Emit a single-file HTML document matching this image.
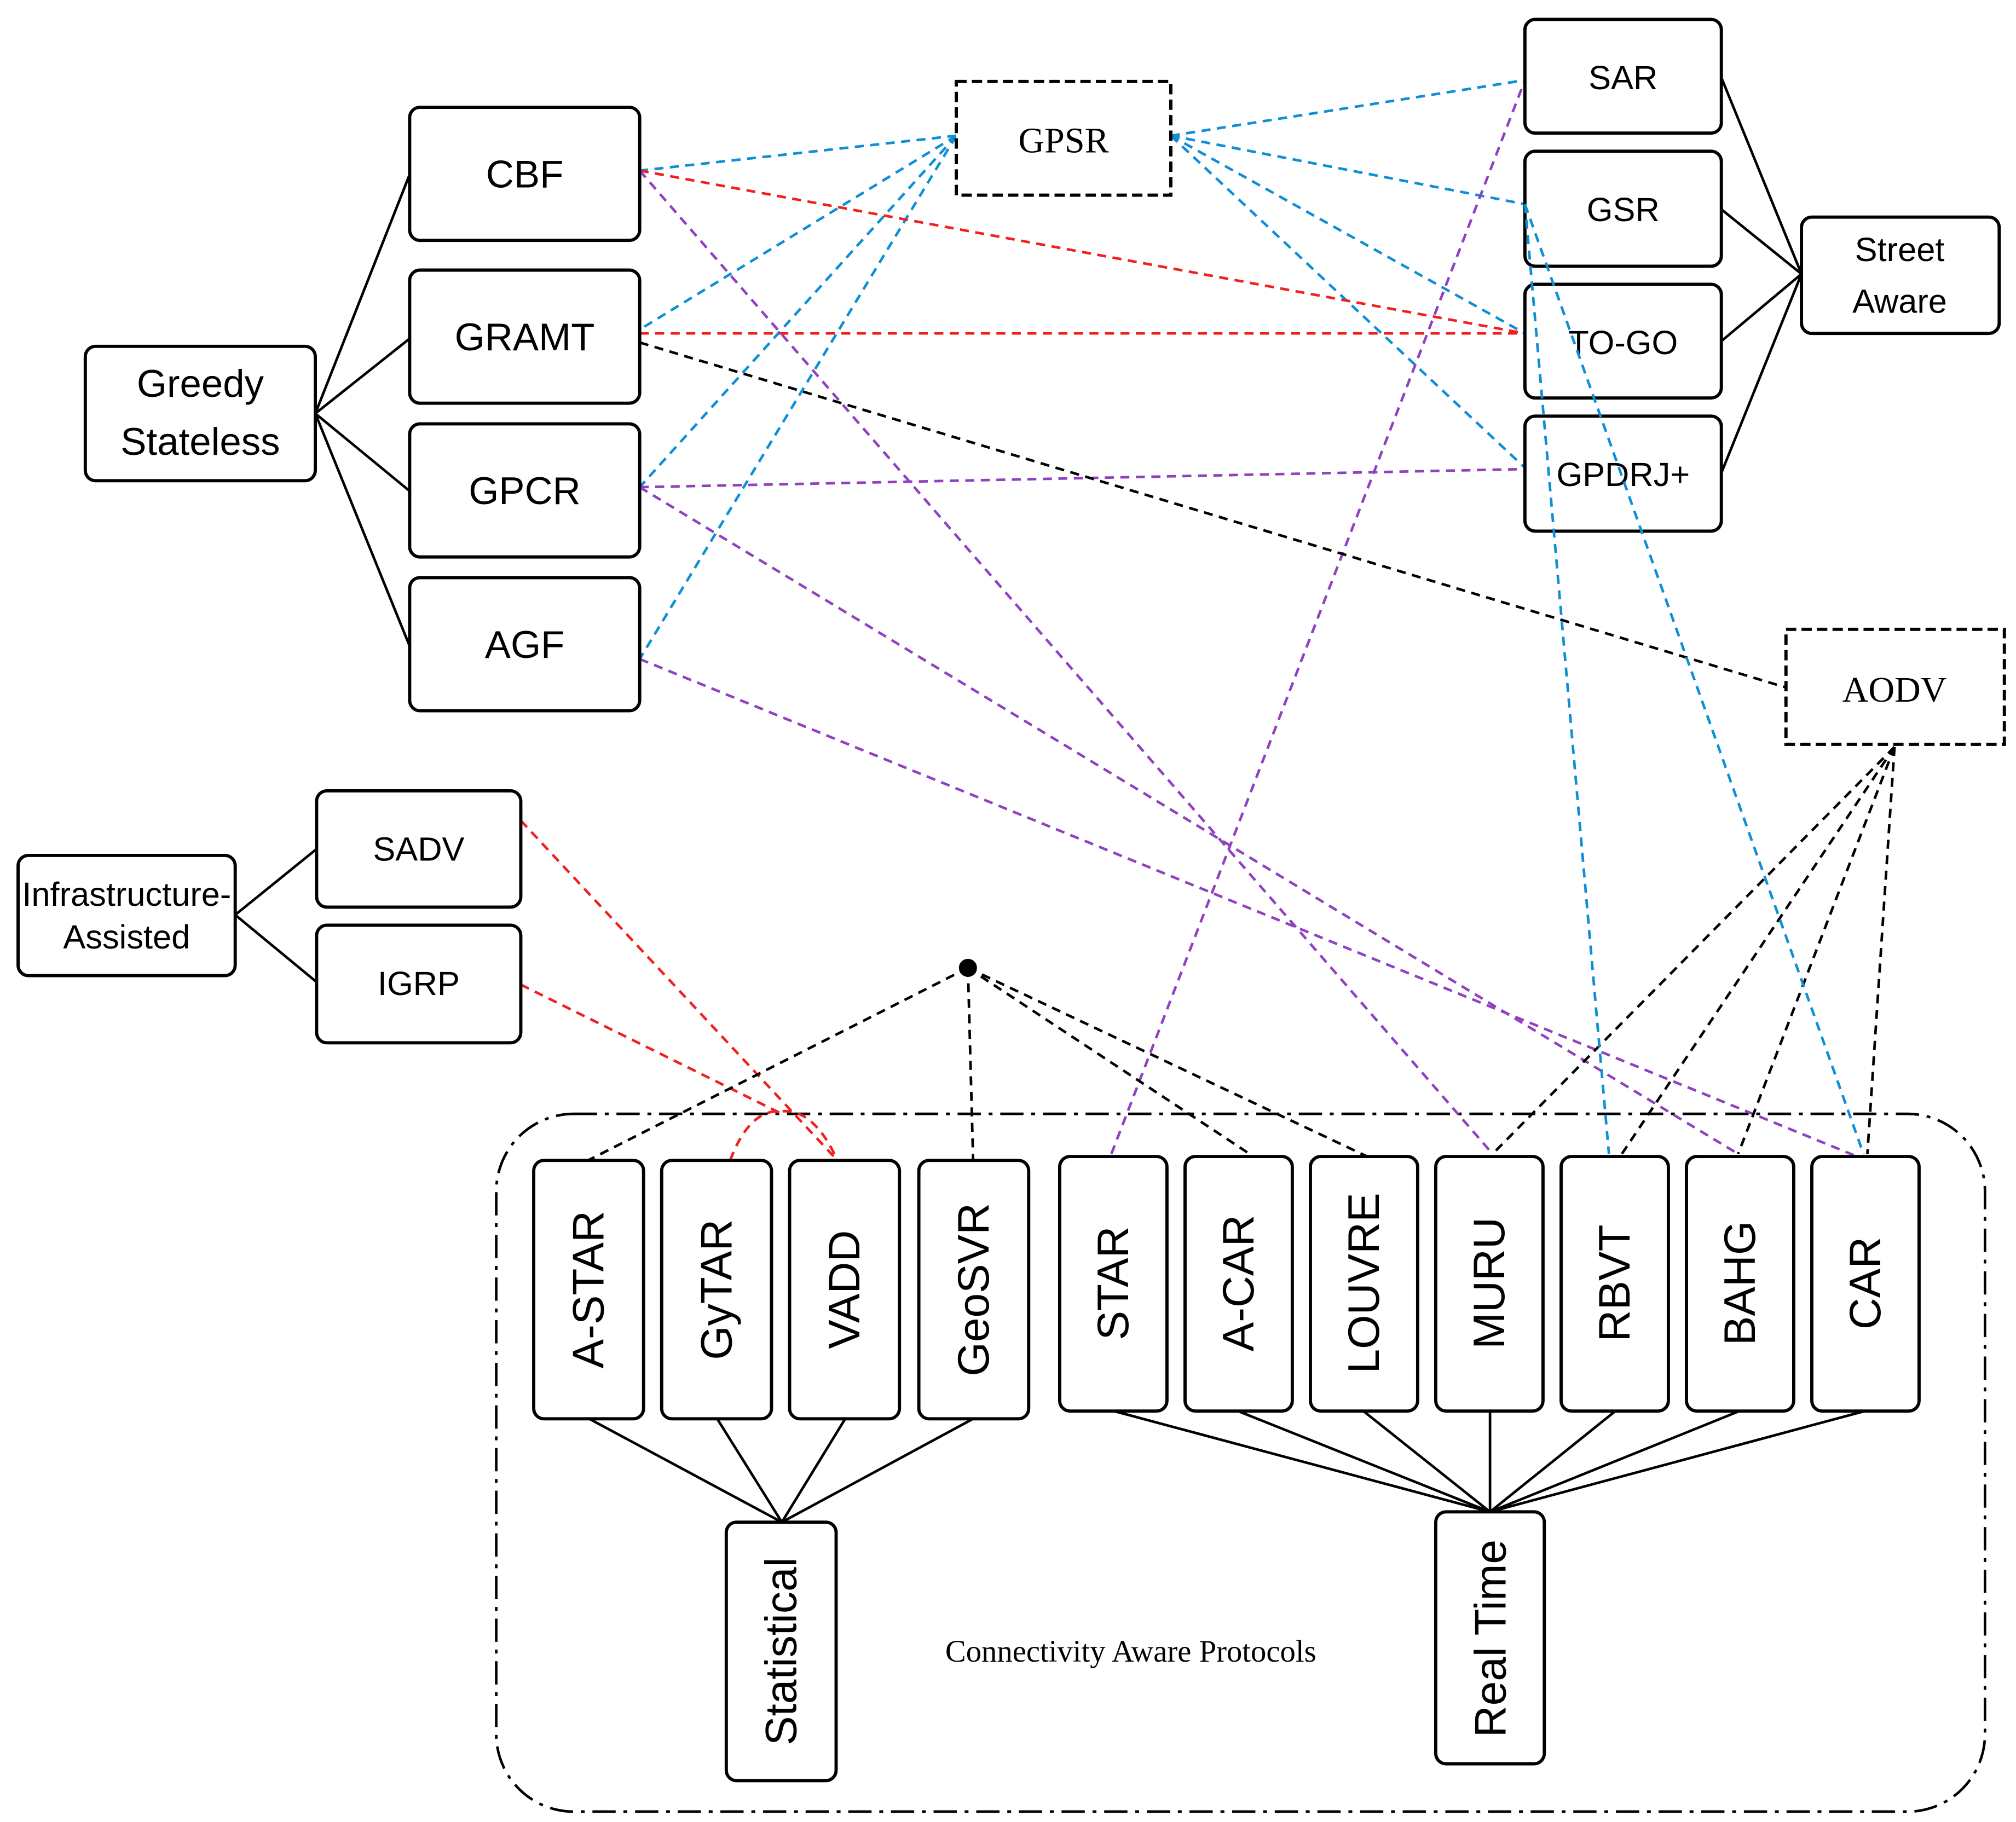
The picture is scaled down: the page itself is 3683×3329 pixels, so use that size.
<!DOCTYPE html>
<html><head><meta charset="utf-8"><style>html,body{margin:0;padding:0;background:#fff}svg{display:block}</style></head>
<body>
<svg xmlns="http://www.w3.org/2000/svg" width="3683" height="3329" viewBox="0 0 1560 1410">
<rect width="1560" height="1410" fill="#fff"/>
<g fill="none" stroke="#000" stroke-width="2">
<path d="M244 320L317 135M244 320L317 262M244 320L317 380M244 320L317 500"/>
<path d="M1394 212L1332 60M1394 212L1332 162M1394 212L1332 264M1394 212L1332 366"/>
<path d="M182 708L245 657M182 708L245 760"/>
<path d="M605 1178L456 1098M605 1178L555 1098M605 1178L654 1098M605 1178L753 1098"/>
<path d="M1153 1170L862 1092M1153 1170L958 1092M1153 1170L1055 1092M1153 1170L1153 1092M1153 1170L1250 1092M1153 1170L1346 1092M1153 1170L1443 1092"/>
</g>
<rect x="384" y="862" width="1152" height="540" rx="60" fill="none" stroke="#000" stroke-width="2" stroke-dasharray="18,6,3,6"/>
<g fill="none" stroke-width="2" stroke-dasharray="7,5">
<g stroke="#0d8fd6">
<path d="M740 105L495 132M740 105L495 255M740 105L495 377M740 105L495 510"/>
<path d="M906 105L1180 62M906 105L1180 158M906 105L1180 258M906 105L1180 362"/>
</g>
<g stroke="#f02020">
<path d="M495 132L1180 258M495 258L1180 258"/>
<path d="M403 635L648 898M403 762L605 862M565 898Q580 858 605 860Q630 858 648 898"/>
</g>
<g stroke="#9040c0">
<path d="M495 132L1155 893M495 377L1180 363M495 377L1345 893M495 510L1442 897M860 893L1180 62"/>
</g>
<g stroke="#000">
<path d="M495 265L1382 532"/>
<path d="M1466 578L1155 893M1466 578L1255 893M1466 578L1345 893M1466 578L1445 893"/>
<path d="M749 749L455 898M749 749L753 898M749 749L970 895M749 749L1058 895"/>
</g>
</g>
<circle cx="749" cy="749" r="7" fill="#000"/>
<g fill="#fff" stroke="#000" stroke-width="2.5">
<rect x="66" y="268" width="178" height="104" rx="8"/>
<rect x="317" y="83" width="178" height="103" rx="8"/>
<rect x="317" y="209" width="178" height="103" rx="8"/>
<rect x="317" y="328" width="178" height="103" rx="8"/>
<rect x="317" y="447" width="178" height="103" rx="8"/>
<rect x="1180" y="15" width="152" height="88" rx="8"/>
<rect x="1180" y="117" width="152" height="89" rx="8"/>
<rect x="1180" y="220" width="152" height="88" rx="8"/>
<rect x="1180" y="322" width="152" height="89" rx="8"/>
<rect x="1394" y="168" width="153" height="90" rx="8"/>
<rect x="14" y="662" width="168" height="93" rx="8"/>
<rect x="245" y="612" width="158" height="90" rx="8"/>
<rect x="245" y="716" width="158" height="91" rx="8"/>
<rect x="413" y="898" width="85" height="200" rx="8"/>
<rect x="512" y="898" width="85" height="200" rx="8"/>
<rect x="611" y="898" width="85" height="200" rx="8"/>
<rect x="711" y="898" width="85" height="200" rx="8"/>
<rect x="820" y="895" width="83" height="197" rx="8"/>
<rect x="917" y="895" width="83" height="197" rx="8"/>
<rect x="1014" y="895" width="83" height="197" rx="8"/>
<rect x="1111" y="895" width="83" height="197" rx="8"/>
<rect x="1208" y="895" width="83" height="197" rx="8"/>
<rect x="1305" y="895" width="83" height="197" rx="8"/>
<rect x="1402" y="895" width="83" height="197" rx="8"/>
<rect x="562" y="1178" width="85" height="200" rx="8"/>
<rect x="1111" y="1170" width="84" height="195" rx="8"/>
</g>
<g fill="#fff" stroke="#000" stroke-width="2.5" stroke-dasharray="8,4">
<rect x="740" y="63" width="166" height="88"/>
<rect x="1382" y="487" width="169" height="89"/>
</g>
<g font-family="Liberation Sans, sans-serif" fill="#000" text-anchor="middle">
<g font-size="30">
<text x="155" y="307">Greedy</text><text x="155" y="352">Stateless</text>
<text x="406" y="145">CBF</text>
<text x="406" y="271">GRAMT</text>
<text x="406" y="390">GPCR</text>
<text x="406" y="509">AGF</text>
</g>
<g font-size="26">
<text x="1256" y="69">SAR</text>
<text x="1256" y="171">GSR</text>
<text x="1256" y="274">TO-GO</text>
<text x="1256" y="376">GPDRJ+</text>
<text x="1470" y="202">Street</text><text x="1470" y="242">Aware</text>
<text x="98" y="701">Infrastructure-</text><text x="98" y="734">Assisted</text>
<text x="324" y="666">SADV</text>
<text x="324" y="770">IGRP</text>
</g>
<g font-size="34">
<text transform="translate(467 998) rotate(-90)">A-STAR</text>
<text transform="translate(566 998) rotate(-90)">GyTAR</text>
<text transform="translate(665 998) rotate(-90)">VADD</text>
<text transform="translate(765 998) rotate(-90)">GeoSVR</text>
<text transform="translate(873 993) rotate(-90)">STAR</text>
<text transform="translate(970 993) rotate(-90)">A-CAR</text>
<text transform="translate(1067 993) rotate(-90)">LOUVRE</text>
<text transform="translate(1164 993) rotate(-90)">MURU</text>
<text transform="translate(1261 993) rotate(-90)">RBVT</text>
<text transform="translate(1358 993) rotate(-90)">BAHG</text>
<text transform="translate(1455 993) rotate(-90)">CAR</text>
<text transform="translate(616 1278) rotate(-90)">Statistical</text>
<text transform="translate(1165 1268) rotate(-90)">Real Time</text>
</g>
<g font-family="Liberation Serif, serif">
<text x="823" y="118" font-size="28">GPSR</text>
<text x="1466" y="543" font-size="28">AODV</text>
<text x="875" y="1286" font-size="24">Connectivity Aware Protocols</text>
</g>
</g>
<g fill="none" stroke="#0d8fd6" stroke-width="2" stroke-dasharray="7,5">
<path d="M1180 158L1245 893M1180 158L1442 893"/>
</g>
</svg>
</body></html>
